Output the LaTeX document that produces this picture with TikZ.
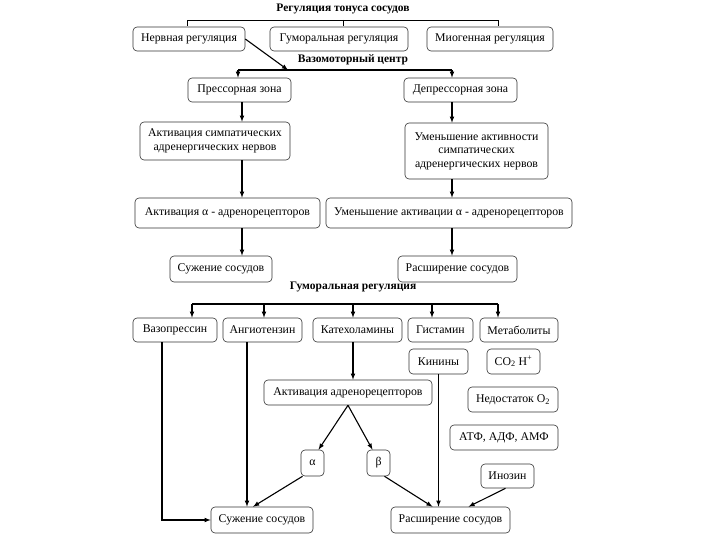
\documentclass[tikz,border=0pt]{standalone}
\usepackage{fontspec}
\setmainfont{Liberation Serif}
\usepackage{tikz}
\usetikzlibrary{positioning, arrows}

\begin{document}
\begin{tikzpicture}[x=1pt, y=-1pt,
        box/.style={draw=black!80, rounded corners=4pt, line width=0.6pt, inner sep=1pt, align=center, font=\fontsize{11.8}{13.5}\selectfont},
        title/.style={font=\bfseries\fontsize{11.5}{13}\selectfont, inner sep=0pt},
        arr/.style={-latex, line width=1.1pt, black}]
                \useasboundingbox (0, 0) rectangle (720, 540);

                % top
                \node[title] (reg) at (343, 9) {Регуляция тонуса сосудов};
                \node[box, minimum width=112pt, minimum height=24pt] (nerv) at (189, 39) {Нервная регуляция};
                \node[box, minimum width=138pt, minimum height=24pt] (gum) at (339, 39) {Гуморальная регуляция};
                \node[box, minimum width=126pt, minimum height=24pt] (miog) at (490, 39) {Миогенная регуляция};
                \draw[line width=0.6pt] (187, 26) -- (187, 20) -- (498, 20) -- (498, 26);
                \draw[line width=0.6pt] (343, 20) -- (343, 26);

                \node[title] (vaso) at (353, 60) {Вазомоторный центр};
                \coordinate (vmL) at (238, 70);
                \coordinate (vmC) at (288, 70);
                \coordinate (vmR) at (452, 70);
                \draw[arr] (nerv.east) -- (vmC);
                \draw[line width=1.1pt] (vmL) -- (vmR);

                \node[box, minimum width=103pt, minimum height=24pt] (press) at (239.5, 90) {Прессорная зона};
                \node[box, minimum width=113pt, minimum height=24pt] (depress) at (460.5, 90) {Депрессорная зона};
                \node[box, minimum width=150pt, minimum height=38pt] (aktsymp) at (215, 141) {Активация симпатических\\адренергических нервов};
                \node[box, minimum width=143pt, minimum height=56pt] (umsymp) at (476.5, 151) {Уменьшение активности\\симпатических\\адренергических нервов};
                \node[box, minimum width=185pt, minimum height=30pt] (aktalpha) at (227.5, 213) {Активация α - адренорецепторов};
                \node[box, minimum width=246pt, minimum height=30pt] (umalpha) at (449, 213) {Уменьшение активации α - адренорецепторов};
                \node[box, minimum width=102pt, minimum height=26pt] (suzhA) at (221, 269) {Сужение сосудов};
                \node[box, minimum width=119pt, minimum height=26pt] (rasshA) at (457.5, 269) {Расширение сосудов};

                \coordinate (colL) at (242, 0);
                \coordinate (colR) at (452, 0);
                \draw[arr] (vmL) -- (vmL |- press.north);
                \draw[arr] (vmR) -- (vmR |- depress.north);
                \draw[arr] (press.south -| colL) -- (aktsymp.north -| colL);
                \draw[arr] (aktsymp.south -| colL) -- (aktalpha.north -| colL);
                \draw[arr] (aktalpha.south -| colL) -- (suzhA.north -| colL);
                \draw[arr] (depress.south -| colR) -- (umsymp.north -| colR);
                \draw[arr] (umsymp.south -| colR) -- (umalpha.north -| colR);
                \draw[arr] (umalpha.south -| colR) -- (rasshA.north -| colR);

                % humoral
                \node[title] (gumt) at (353, 287) {Гуморальная регуляция};
                \draw[line width=1.1pt] (192, 304) -- (498, 304);
                \node[box, minimum width=84pt, minimum height=24pt] (vazo) at (175, 330) {Вазопрессин};
                \node[box, minimum width=79pt, minimum height=24pt] (angio) at (262.5, 330) {Ангиотензин};
                \node[box, minimum width=89pt, minimum height=24pt] (kat) at (357.5, 330) {Катехоламины};
                \node[box, minimum width=65pt, minimum height=24pt] (gist) at (440.5, 330) {Гистамин};
                \node[box, minimum width=78pt, minimum height=24pt] (metab) at (519, 330) {Метаболиты};
                \draw[arr] (192, 304) -- (vazo.north -| 192, 0);
                \draw[arr] (264, 304) -- (angio.north -| 264, 0);
                \draw[arr] (353, 304) -- (kat.north -| 353, 0);
                \draw[arr] (432, 304) -- (gist.north -| 432, 0);
                \draw[arr] (498, 304) -- (metab.north -| 498, 0);

                \node[box, minimum width=59pt, minimum height=25pt] (kinin) at (438.5, 361.5) {Кинины};
                \node[box, minimum width=53pt, minimum height=25pt] (co) at (513.5, 361.5) {CO\textsubscript{2} H\textsuperscript{+}};
                \node[box, minimum width=90pt, minimum height=25pt] (nedost) at (513, 399.5) {Недостаток O\textsubscript{2}};
                \node[box, minimum width=108pt, minimum height=25pt] (atf) at (504, 437.5) {АТФ, АДФ, АМФ};
                \node[box, minimum width=53pt, minimum height=24pt] (inoz) at (507.5, 476) {Инозин};
                \node[box, minimum width=168pt, minimum height=25pt] (aktadr) at (348, 392.5) {Активация адренорецепторов};
                \node[box, minimum width=23pt, minimum height=26pt] (alpha) at (312.5, 463) {α};
                \node[box, minimum width=23pt, minimum height=26pt] (beta) at (378.5, 463) {β};
                \node[box, minimum width=102pt, minimum height=26pt] (suzhB) at (262, 520) {Сужение сосудов};
                \node[box, minimum width=119pt, minimum height=26pt] (rasshB) at (450.5, 520) {Расширение сосудов};

                \draw[arr] (vazo.south -| 162, 0) |- (suzhB.west);
                \draw[arr] (angio.south -| 247, 0) -- (suzhB.north -| 247, 0);
                \draw[arr] (kat.south -| 353, 0) -- (aktadr.north -| 353, 0);
                \draw[arr] (aktadr.south) -- ([xshift=6pt]alpha.north);
                \draw[arr] (aktadr.south) -- ([xshift=-6pt]beta.north);
                \draw[arr] ([xshift=-10pt]alpha.south) -- ([xshift=-9pt]suzhB.north);
                \draw[arr] ([xshift=6pt]beta.south) -- ([xshift=-18pt]rasshB.north);
                \draw[arr] (kinin.south) -- (kinin.south |- rasshB.north);
                \draw[arr] ([xshift=-2pt]inoz.south) -- ([xshift=18pt]rasshB.north);
            \end{tikzpicture}
\end{document}
